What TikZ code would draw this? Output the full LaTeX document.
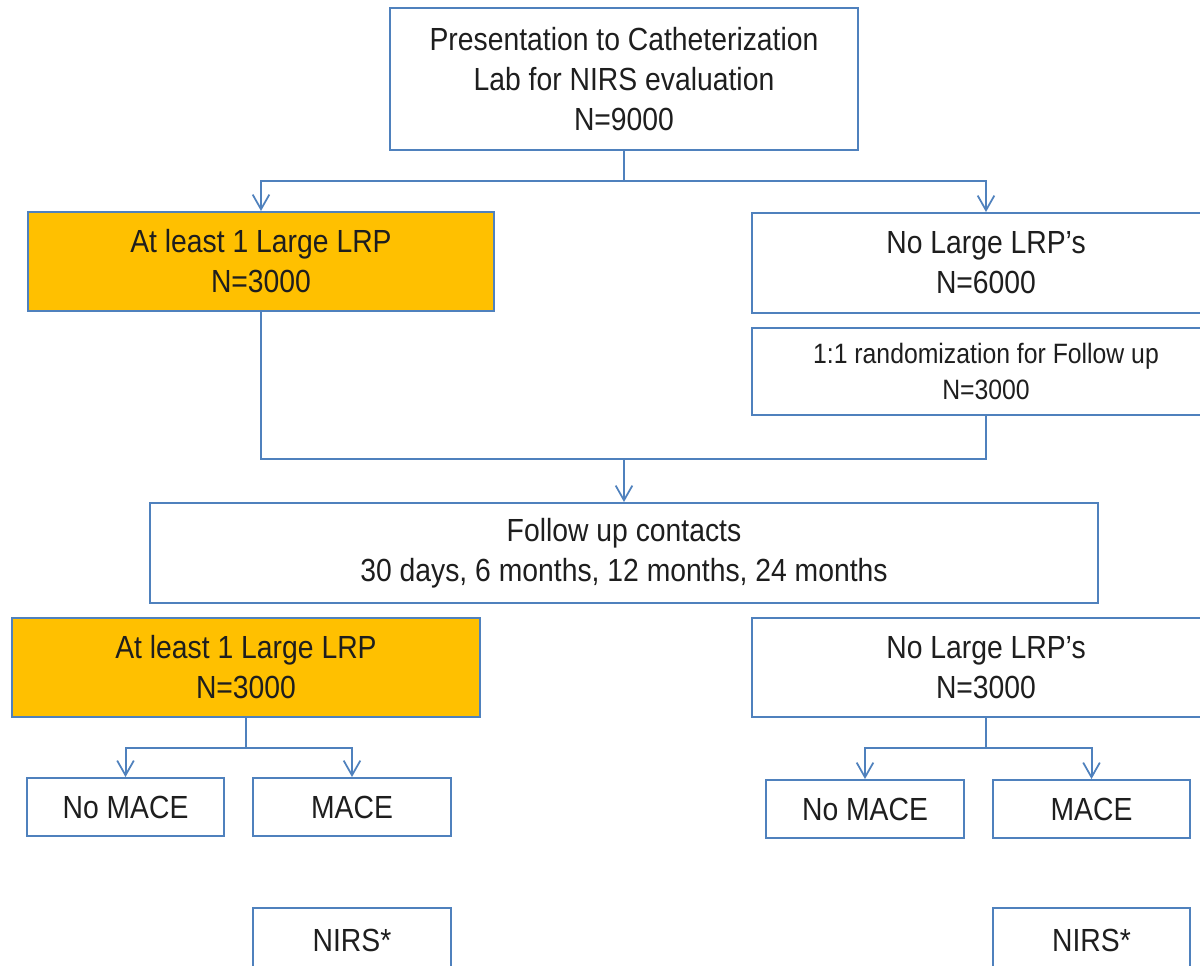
\documentclass[tikz,border=0pt]{standalone}
\usepackage{fontspec}
\setmainfont{Liberation Sans}[FakeStretch=0.885]
\usetikzlibrary{arrows.meta}
\definecolor{boxblue}{HTML}{4F81BD}
\definecolor{boxorange}{HTML}{FFC000}
\definecolor{txt}{HTML}{1E1E1E}
\tikzset{
  box/.style={draw=boxblue, line width=1.5pt, fill=white, text=txt, align=center,
    inner sep=0pt, font=\fontsize{24}{30}\selectfont},
  obox/.style={box, fill=boxorange},
  sbox/.style={box, font=\fontsize{21}{27}\selectfont},
  link/.style={draw=boxblue, line width=1.5pt},
  arr/.style={link, -{Straight Barb[length=11pt,width=12.5pt,line width=1.3pt]}}
}
\begin{document}
\begin{tikzpicture}[x=0.75pt,y=-0.75pt]
\useasboundingbox (0,0) rectangle (1200,965);
\clip (0,0) rectangle (1200,965);
\fill[white] (0,0) rectangle (1200,965);

\node[box, minimum width=468*0.75pt, minimum height=142*0.75pt] (top) at (624,79)
  {Presentation to Catheterization\\Lab for NIRS evaluation\\N=9000};
\node[obox, minimum width=466*0.75pt, minimum height=99*0.75pt] (L1) at (261,261.5)
  {At least 1 Large LRP\\N=3000};
\node[box, minimum width=468*0.75pt, minimum height=100*0.75pt] (R1) at (986,263)
  {No Large LRP’s\\N=6000};
\node[sbox, minimum width=468*0.75pt, minimum height=87*0.75pt] (R1b) at (986,371.5)
  {1:1 randomization for Follow up\\N=3000};
\node[box, minimum width=948*0.75pt, minimum height=100*0.75pt] (FU) at (624,553)
  {Follow up contacts\\30 days, 6 months, 12 months, 24 months};
\node[obox, minimum width=468*0.75pt, minimum height=99*0.75pt] (L2) at (246,667.5)
  {At least 1 Large LRP\\N=3000};
\node[box, minimum width=468*0.75pt, minimum height=99*0.75pt] (R2) at (986,667.5)
  {No Large LRP’s\\N=3000};
\node[box, minimum width=197*0.75pt, minimum height=58*0.75pt] (LN) at (125.5,807) {No MACE};
\node[box, minimum width=198*0.75pt, minimum height=58*0.75pt] (LM) at (352,807) {MACE};
\node[box, minimum width=198*0.75pt, minimum height=58*0.75pt] (RN) at (865,809) {No MACE};
\node[box, minimum width=197*0.75pt, minimum height=58*0.75pt] (RM) at (1091.5,809) {MACE};
\node[box, minimum width=198*0.75pt, minimum height=64*0.75pt] (LNIRS) at (352,940) {NIRS*};
\node[box, minimum width=197*0.75pt, minimum height=64*0.75pt] (RNIRS) at (1091.5,940) {NIRS*};

\coordinate (j1) at (624,181);
\coordinate (j2) at (624,459);
\coordinate (j3) at (246,748);
\coordinate (j4) at (986,748);

\draw[link] (top.south) -- (j1);
\draw[arr] (j1) -| (L1.north);
\draw[arr] (j1) -| (R1.north);

\draw[link] (L1.south) |- (j2);
\draw[link] (R1b.south) |- (j2);
\draw[arr] (j2) -- (FU.north);

\draw[link] (L2.south) -- (j3);
\draw[arr] (j3) -| (LN.north);
\draw[arr] (j3) -| (LM.north);

\draw[link] (R2.south) -- (j4);
\draw[arr] (j4) -| (RN.north);
\draw[arr] (j4) -| (RM.north);
\end{tikzpicture}
\end{document}
